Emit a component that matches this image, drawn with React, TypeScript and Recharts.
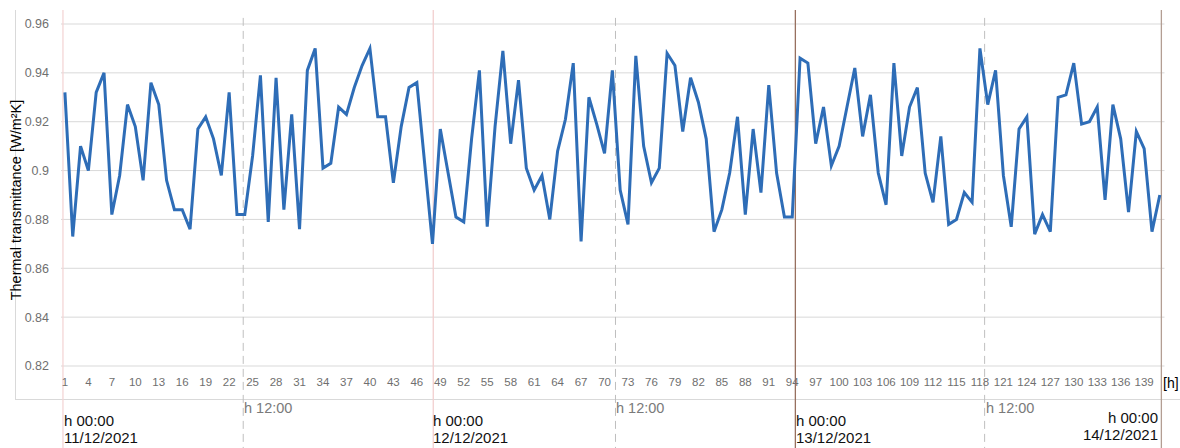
import React from 'react';
import { LineChart, Line, XAxis, YAxis, CartesianGrid, ReferenceLine } from 'recharts';

// hourly thermal transmittance readings, h = 1..141
const U_VALUES = [
  0.932, 0.873, 0.910, 0.900, 0.932, 0.940, 0.882, 0.898, 0.927, 0.918,
  0.896, 0.936, 0.927, 0.896, 0.884, 0.884, 0.876, 0.917, 0.922, 0.913,
  0.898, 0.932, 0.882, 0.882, 0.906, 0.939, 0.879, 0.938, 0.884, 0.923,
  0.876, 0.941, 0.950, 0.901, 0.903, 0.926, 0.923, 0.934, 0.943, 0.950,
  0.922, 0.922, 0.895, 0.918, 0.934, 0.936, 0.903, 0.870, 0.917, 0.899,
  0.881, 0.879, 0.913, 0.941, 0.877, 0.918, 0.949, 0.911, 0.937, 0.901,
  0.892, 0.898, 0.880, 0.908, 0.921, 0.944, 0.871, 0.930, 0.919, 0.907,
  0.941, 0.892, 0.878, 0.947, 0.910, 0.895, 0.901, 0.948, 0.943, 0.916,
  0.938, 0.928, 0.913, 0.875, 0.884, 0.899, 0.922, 0.882, 0.917, 0.891,
  0.935, 0.899, 0.881, 0.881, 0.946, 0.944, 0.911, 0.926, 0.902, 0.910,
  0.926, 0.942, 0.914, 0.931, 0.899, 0.886, 0.944, 0.906, 0.926, 0.934,
  0.899, 0.887, 0.914, 0.878, 0.880, 0.891, 0.887, 0.950, 0.927, 0.941,
  0.898, 0.877, 0.917, 0.922, 0.874, 0.882, 0.875, 0.930, 0.931, 0.944,
  0.919, 0.920, 0.926, 0.888, 0.927, 0.913, 0.883, 0.916, 0.909, 0.875,
  0.890,
];

const Y_TICKS = [0.82, 0.84, 0.86, 0.88, 0.9, 0.92, 0.94, 0.96];

const X_TICKS = [
  1, 4, 7, 10, 13, 16, 19, 22, 25, 28, 31, 34, 37, 40, 43, 46, 49, 52, 55, 58,
  61, 64, 67, 70, 73, 76, 79, 82, 85, 88, 91, 94, 97, 100, 103, 106, 109, 112,
  115, 118, 121, 124, 127, 130, 133, 136, 139,
];

// day / half-day markers on the hour axis
const DAY_MARKS = [0.75, 48.1, 94.4, 141.2];
const DAY_COLORS = ['#f4d6d6', '#f2cfcf', '#97705f', '#b39e93'];
const NOON_MARKS = [23.8, 71.4, 118.6];

const data = U_VALUES.map((u, i) => ({ hour: i + 1, u }));

const tickFont = { fontFamily: 'Liberation Sans, Arial, sans-serif', fill: '#6f6f6f' };

const dayLabel: React.CSSProperties = {
  position: 'absolute',
  fontFamily: 'Liberation Sans, Arial, sans-serif',
  fontSize: 15,
  lineHeight: '17px',
  color: '#111',
  whiteSpace: 'nowrap',
};

const noonLabel: React.CSSProperties = {
  position: 'absolute',
  top: 400,
  fontFamily: 'Liberation Sans, Arial, sans-serif',
  fontSize: 14.5,
  lineHeight: '17px',
  color: '#7a7a7a',
  whiteSpace: 'nowrap',
};

const TOP = 0.9657;
const BOTTOM = 0.7864;

export default function App() {
  return (
    <div style={{ position: 'absolute', left: 0, top: 0, width: 1180, height: 448, background: '#fff' }}>
      <div
        style={{
          position: 'absolute',
          left: 15,
          top: 10,
          width: 1165,
          height: 390,
          borderLeft: '1px solid #d9d9d9',
          borderBottom: '1px solid #d9d9d9',
          boxSizing: 'border-box',
        }}
      />
      <LineChart width={1180} height={448} data={data} margin={{ top: 24, right: 15.5, left: 0, bottom: 0 }}>
        <CartesianGrid vertical={false} stroke="#d9d9d9" />
        <XAxis
          type="number"
          dataKey="hour"
          domain={[0.5, 141.6]}
          ticks={X_TICKS}
          interval={0}
          height={82}
          tickLine={false}
          axisLine={false}
          tickSize={0}
          tickMargin={12}
          tick={{ ...tickFont, fontSize: 11.5 }}
        />
        <YAxis
          type="number"
          domain={[0.82, 0.96]}
          ticks={Y_TICKS}
          width={61}
          tickLine={false}
          axisLine={false}
          tickSize={0}
          tickMargin={12}
          tick={{ ...tickFont, fontSize: 12.5 }}
          tickFormatter={(v: number) => String(+v.toFixed(2))}
          label={{
            content: () => (
              <text
                x={16}
                y={200}
                transform="rotate(-90 16 200)"
                textAnchor="middle"
                dominantBaseline="central"
                style={{ fontFamily: 'Liberation Sans, Arial, sans-serif', fontSize: 14.5, fill: '#000' }}
              >
                Thermal transmittance [W/m²K]
              </text>
            ),
          }}
        />
        {NOON_MARKS.map((h) => (
          <ReferenceLine
            key={`noon-${h}`}
            segment={[{ x: h, y: 0.9625 }, { x: h, y: BOTTOM }]}
            ifOverflow="visible"
            stroke="#bfbfbf"
            strokeDasharray="8 5"
          />
        ))}
        {DAY_MARKS.map((h, i) => (
          <ReferenceLine
            key={`day-${h}`}
            segment={[{ x: h, y: TOP }, { x: h, y: BOTTOM }]}
            ifOverflow="visible"
            stroke={DAY_COLORS[i]}
            strokeWidth={1.3}
          />
        ))}
        <Line
          type="linear"
          dataKey="u"
          stroke="#2E6DB7"
          strokeWidth={3}
          dot={false}
          isAnimationActive={false}
        />
      </LineChart>

      <div style={{ position: 'absolute', left: 1163, top: 375, fontFamily: 'Liberation Sans, Arial, sans-serif', fontSize: 14, color: '#000' }}>
        [h]
      </div>

      <div style={{ ...dayLabel, left: 64, top: 412 }}>h 00:00<br />11/12/2021</div>
      <div style={{ ...noonLabel, left: 244 }}>h 12:00</div>
      <div style={{ ...dayLabel, left: 433, top: 412 }}>h 00:00<br />12/12/2021</div>
      <div style={{ ...noonLabel, left: 616 }}>h 12:00</div>
      <div style={{ ...dayLabel, left: 796, top: 412 }}>h 00:00<br />13/12/2021</div>
      <div style={{ ...noonLabel, left: 986 }}>h 12:00</div>
      <div style={{ ...dayLabel, right: 22, top: 409, textAlign: 'right' }}>h 00:00<br />14/12/2021</div>
    </div>
  );
}
